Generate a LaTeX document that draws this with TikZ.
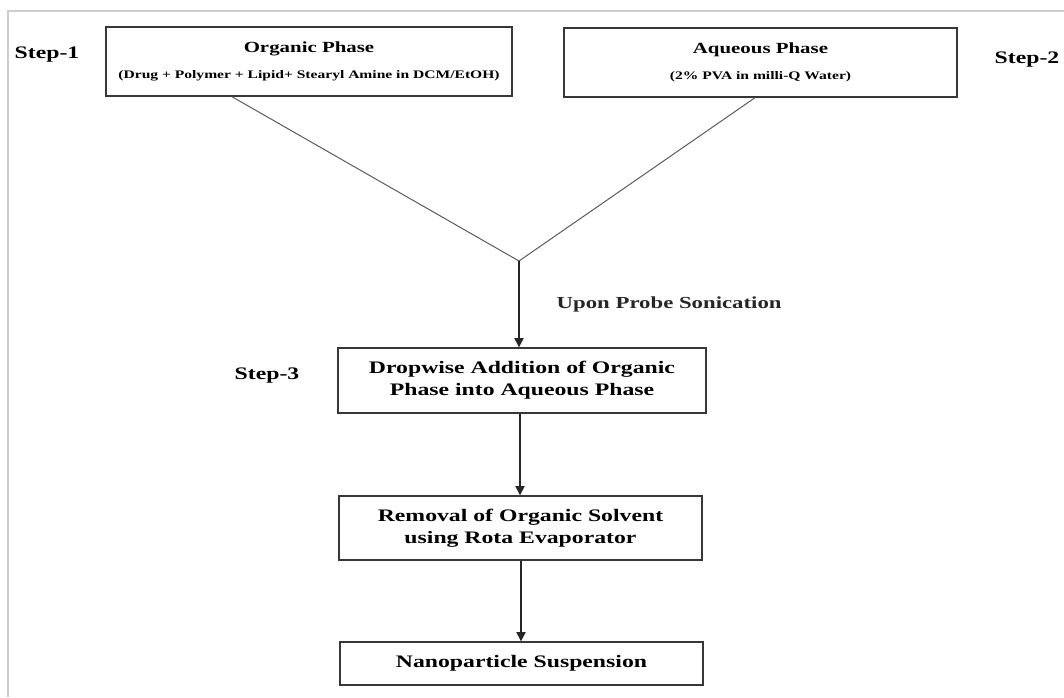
\documentclass[tikz,border=0pt]{standalone}
\usepackage{fontspec}
\setmainfont{Liberation Serif}[FakeStretch=1.35]
\usetikzlibrary{positioning,arrows.meta}
\usepackage{xcolor}
\definecolor{framegray}{RGB}{205,205,205}
\definecolor{boxline}{RGB}{55,55,55}
\newcommand{\phasetitle}[1]{{\fontsize{11}{13}\selectfont #1}}
\newcommand{\phasesub}[1]{{\fontsize{8.2}{10}\selectfont #1}}

\begin{document}
\begin{tikzpicture}[
      x=0.025cm,
      y=-0.025cm,
      stage/.style={draw=boxline,line width=1pt,align=center,inner sep=0pt,font=\fontsize{12.5}{15.4}\selectfont\bfseries},
      phase/.style={draw=boxline,line width=1pt,align=center,inner sep=0pt,minimum height=1.725cm,font=\bfseries},
      steplbl/.style={font=\fontsize{12.5}{15}\selectfont\bfseries},
      feed/.style={black!65,line width=0.7pt},
      flow/.style={-{Triangle[length=6.5pt,width=6.5pt]},black!85,line width=1pt}
    ]
      \useasboundingbox (0,0) rectangle (1064,697);
      \draw[framegray,line width=1.4pt] (1064,11) -- (8,11) -- (8,697);

      \node[phase,minimum width=10.15cm] (organic) at (309,61.5) {\phasetitle{Organic Phase}\\[7pt]\phasesub{(Drug + Polymer + Lipid+ Stearyl Amine in DCM/EtOH)}};
      \node[phase,minimum width=9.825cm] (aqueous) at (760.5,62.5) {\phasetitle{Aqueous Phase}\\[7pt]\phasesub{(2\% PVA in milli-Q Water)}};
      \node[steplbl] (step1) at (47,55) {Step-1};
      \node[steplbl] (step2) at (1027,60) {Step-2};

      \coordinate (merge) at (519,261);
      \draw[feed] (organic.south -| 232,0) -- (merge);
      \draw[feed] (aqueous.south -| 755,0) -- (merge);

      \node[stage,minimum width=9.2cm,minimum height=1.625cm] (dropwise) at (522,380.5) {Dropwise Addition of Organic\\Phase into Aqueous Phase};
      \node[steplbl] (step3) at (267,376) {Step-3};
      \node[stage,minimum width=9.075cm,minimum height=1.6cm] (removal) at (520.5,528) {Removal of Organic Solvent\\using Rota Evaporator};
      \node[stage,minimum width=9.075cm,minimum height=1.075cm] (nano) at (521.5,663.5) {Nanoparticle Suspension};

      \draw[flow] (merge) -- (merge |- dropwise.north) node[midway,right=23pt,steplbl,font=\fontsize{12}{14}\selectfont\bfseries] (sonic) {Upon Probe Sonication};
      \draw[flow] (dropwise.south -| 520,0) -- (removal.north -| 520,0);
      \draw[flow] (removal.south -| 521,0) -- (nano.north -| 521,0);
    \end{tikzpicture}
\end{document}
